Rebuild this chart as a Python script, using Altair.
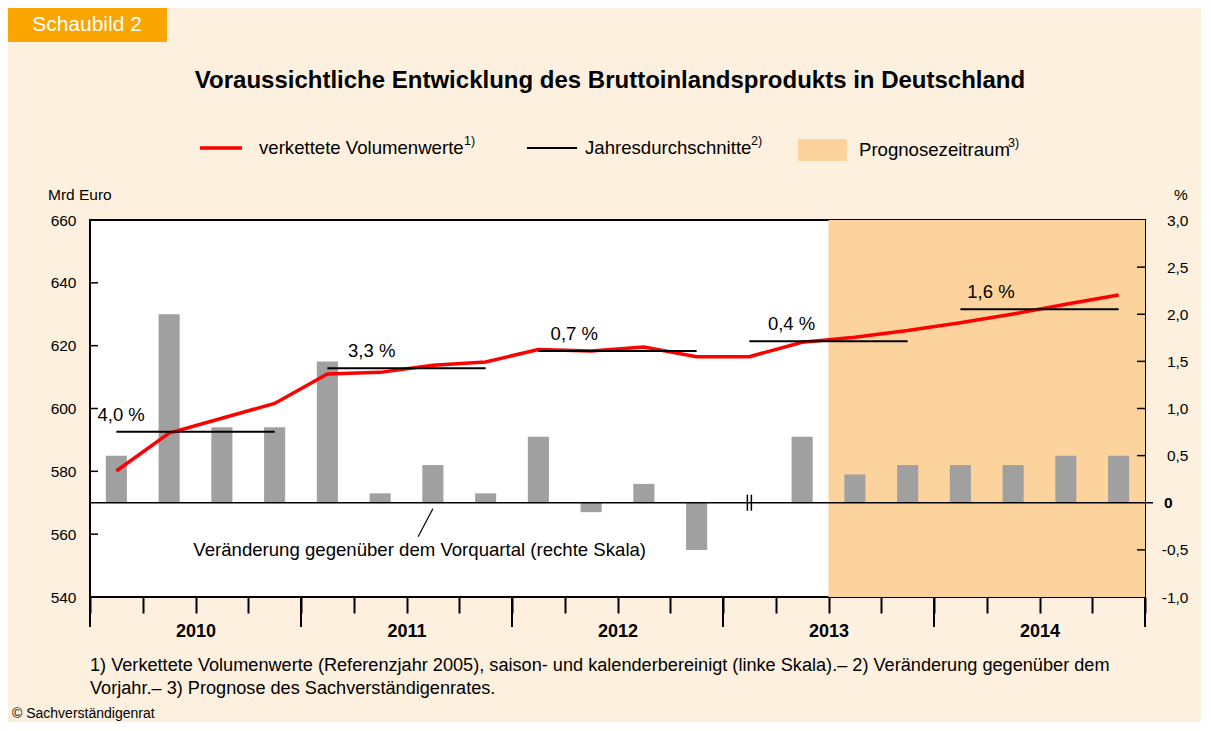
import altair as alt
import pandas as pd

F = "Liberation Sans"

# ---------------- data ----------------
quarters = [f"{y} Q{q}" for y in range(2010, 2015) for q in range(1, 5)]
years = ["2010", "2011", "2012", "2013", "2014"]
gdp = [580.1, 592.2, 596.9, 601.6, 611.0, 611.5, 613.8, 614.8, 618.8, 618.3,
       619.6, 616.5, 616.5, 621.1, 622.7, 624.8, 627.3, 630.1, 633.2, 636.1]
change = [0.5, 2.0, 0.8, 0.8, 1.5, 0.1, 0.4, 0.1, 0.7, -0.1,
          0.2, -0.5, 0.0, 0.7, 0.3, 0.4, 0.4, 0.4, 0.5, 0.5]
annual_avg = [592.6, 612.8, 618.3, 621.4, 631.6]
annual_growth = ["4,0 %", "3,3 %", "0,7 %", "0,4 %", "1,6 %"]
label_x = [0.59, 5.34, 9.18, 13.3, 17.08]   # label anchors (quarter units)
forecast_start = 14   # 2013 Q3
break_quarter = 12    # 2013 Q1
left_ticks = [540, 560, 580, 600, 620, 640, 660]
right_ticks = [-1.0, -0.5, 0.0, 0.5, 1.0, 1.5, 2.0, 2.5, 3.0]

W, H = 1055, 377

q = pd.DataFrame({
    "quarter": quarters,
    "x": [i + 0.5 for i in range(20)],
    "x0": [i + 0.3 for i in range(20)],
    "x1": [i + 0.7 for i in range(20)],
    "gdp": gdp,
    "chg": change,
    "base": [0.0] * 20,
})
ann = pd.DataFrame({
    "year": years,
    "xa": [i * 4 + 0.5 for i in range(5)],
    "xb": [i * 4 + 3.5 for i in range(5)],
    "avg": annual_avg,
    "label": annual_growth,
    "lx": label_x,
})

# ---------------- scales / axes ----------------
xs = alt.Scale(domain=[0, 20], nice=False, zero=False)
year_arr = "[" + ",".join(f"'{y}'" for y in years) + "]"
xaxis = alt.Axis(values=list(range(21)), tickSize=16, tickWidth=2, tickColor="black",
                 domain=False, grid=False, title=None, labelOverlap=False, labelFlush=False,
                 labelExpr=f"datum.value % 4 == 2 ? {year_arr}[floor(datum.value/4)] : ''",
                 labelFont=F, labelFontSize=18, labelFontWeight="bold", labelColor="black",
                 labelPadding=18, labelBaseline="middle")

ls = alt.Scale(domain=[540, 660], nice=False, zero=False)
laxis = alt.Axis(orient="left", values=left_ticks, ticks=False, domain=False, grid=False,
                 title=None, labelPadding=14, labelFont=F, labelFontSize=15.5,
                 labelColor="black", labelFlush=False, format="d")

rs = alt.Scale(domain=[-1, 3], nice=False, zero=False)
raxis = alt.Axis(orient="right", values=right_ticks, ticks=False, domain=False, grid=False,
                 title=None, labelPadding=43, labelAlign="right", labelFont=F,
                 labelFontSize=15.5, labelColor="black", labelFlush=False,
                 labelExpr="datum.value == 0 ? '' : replace(replace(format(datum.value, '.1f'), '.', ','), '\u2212', '-')")


def X(f):
    return alt.X(f"{f}:Q", scale=xs, axis=xaxis, title=None)


def YL(f):
    return alt.Y(f"{f}:Q", scale=ls, axis=laxis, title=None)


def YR(f):
    return alt.Y(f"{f}:Q", scale=rs, axis=raxis, title=None)


one = pd.DataFrame({"k": [0]})

# ---------------- right-scale group ----------------
forecast = alt.Chart(pd.DataFrame({"xs": [forecast_start], "xe": [20]})).mark_rect(
    color="#FDD39D").encode(x=X("xs"), x2="xe", y=alt.value(0), y2=alt.value(H))

bars = alt.Chart(q).mark_bar(color="#A0A0A0").encode(
    x=X("x0"), x2="x1", y=YR("chg"), y2="base")

zero_line = alt.Chart(pd.DataFrame({"z": [0.0]})).mark_rule(
    color="black", strokeWidth=1.5).encode(y=YR("z"), x=alt.value(0), x2=alt.value(W))

brk = alt.Chart(q.iloc[[break_quarter]]).mark_point(
    shape="M-0.25,-1L-0.25,1M0.25,-1L0.25,1", size=256, filled=False,
    stroke="black", strokeWidth=1.5, opacity=1).encode(x=X("x"), y=YR("chg"))

rt_in = alt.Chart(pd.DataFrame({"t": [v for v in right_ticks if v not in (0.0, -1.0, 3.0)]})).mark_rule(
    color="black", strokeWidth=1.5).encode(y=YR("t"), x=alt.value(W - 8), x2=alt.value(W))
rt_zero = alt.Chart(pd.DataFrame({"t": [0.0]})).mark_rule(
    color="black", strokeWidth=1.5).encode(y=YR("t"), x=alt.value(W), x2=alt.value(W + 8))
zero_lab = alt.Chart(pd.DataFrame({"t": [0.0], "s": ["0"]})).mark_text(
    font=F, fontSize=15.5, fontWeight="bold", align="left", color="black").encode(
    y=YR("t"), x=alt.value(W + 19), text="s:N")

lead = alt.Chart(pd.DataFrame({"a": [6.5], "b": [6.22], "ya": [-0.064], "yb": [-0.36]})).mark_rule(
    color="black", strokeWidth=1.2).encode(x=X("a"), x2="b", y=YR("ya"), y2="yb")
lead_txt = alt.Chart(pd.DataFrame({"a": [6.25], "ya": [-0.5],
                                   "s": ["Veränderung gegenüber dem Vorquartal (rechte Skala)"]})).mark_text(
    font=F, fontSize=18.6, color="black").encode(x=X("a"), y=YR("ya"), text="s:N")

right_group = alt.layer(forecast, bars, zero_line, brk, rt_in, rt_zero, zero_lab, lead, lead_txt)

# ---------------- left-scale group ----------------
line = alt.Chart(q).mark_line(color="#FF0000", strokeWidth=3.5).encode(x=X("x"), y=YL("gdp"))
avg_rules = alt.Chart(ann).mark_rule(color="black", strokeWidth=2).encode(
    x=X("xa"), x2="xb", y=YL("avg"))
avg_labels = alt.Chart(ann).mark_text(font=F, fontSize=18.5, color="black", dy=-17).encode(
    x=X("lx"), y=YL("avg"), text="label:N")
lt = alt.Chart(pd.DataFrame({"t": left_ticks[1:-1]})).mark_rule(
    color="black", strokeWidth=1.5).encode(y=YL("t"), x=alt.value(0), x2=alt.value(8))
year_ticks = alt.Chart(pd.DataFrame({"yb": [0, 4, 8, 12, 16, 20]})).mark_rule(
    color="black", strokeWidth=2).encode(x=X("yb"), y=alt.value(H), y2=alt.value(H + 30))


def txt(s, x, y, size=18.6, weight="normal", align="left", color="black"):
    return alt.Chart(one).mark_text(font=F, fontSize=size, fontWeight=weight, align=align,
                                    baseline="middle", color=color, text=s).encode(
        x=alt.value(x), y=alt.value(y))


def prule(x1, x2, y, color, sw):
    return alt.Chart(one).mark_rule(color=color, strokeWidth=sw).encode(
        x=alt.value(x1), x2=alt.value(x2), y=alt.value(y))


tag = alt.Chart(one).mark_rect(color="#FBA500").encode(
    x=alt.value(-82), x2=alt.value(77), y=alt.value(-212), y2=alt.value(-178))
legend_box = alt.Chart(one).mark_rect(color="#FDD39D").encode(
    x=alt.value(708), x2=alt.value(757), y=alt.value(-81), y2=alt.value(-59))

deco = [
    tag,
    txt("Schaubild 2", -3, -195, size=21, align="center", color="white"),
    txt("Voraussichtliche Entwicklung des Bruttoinlandsprodukts in Deutschland", 520, -139,
        size=24, weight="bold", align="center"),
    prule(110, 152, -72, "#FF0000", 3.5),
    txt("verkettete Volumenwerte", 169, -72),
    txt("1)", 374, -79, size=12.5),
    prule(437, 487, -72, "black", 2),
    txt("Jahresdurchschnitte", 495, -72),
    txt("2)", 661, -79, size=12.5),
    legend_box,
    txt("Prognosezeitraum", 769, -70),
    txt("3)", 918, -77, size=12.5),
    txt("Mrd Euro", -42, -25, size=15.5),
    txt("%", 1091, -25, size=15.5, align="center"),
    txt("1) Verkettete Volumenwerte (Referenzjahr 2005), saison- und kalenderbereinigt (linke Skala).– 2) Veränderung gegenüber dem",
        0, 446, size=18.15),
    txt("Vorjahr.– 3) Prognose des Sachverständigenrates.", 0, 469, size=18.15),
    txt("© Sachverständigenrat", -78, 494, size=14),
]

left_group = alt.layer(line, avg_rules, avg_labels, lt, year_ticks, *deco)

chart = alt.layer(right_group, left_group).resolve_scale(y="independent").properties(
    width=W, height=H,
    padding={"left": 82, "top": 212, "right": 56, "bottom": 125},
    autosize=alt.AutoSizeParams(type="none"),
    background="#FDF0DF",
).configure_view(stroke="black", strokeWidth=2, fill="white").configure_text(font=F)

chart.save("out.html", embed_options={"renderer": "svg", "actions": False})
